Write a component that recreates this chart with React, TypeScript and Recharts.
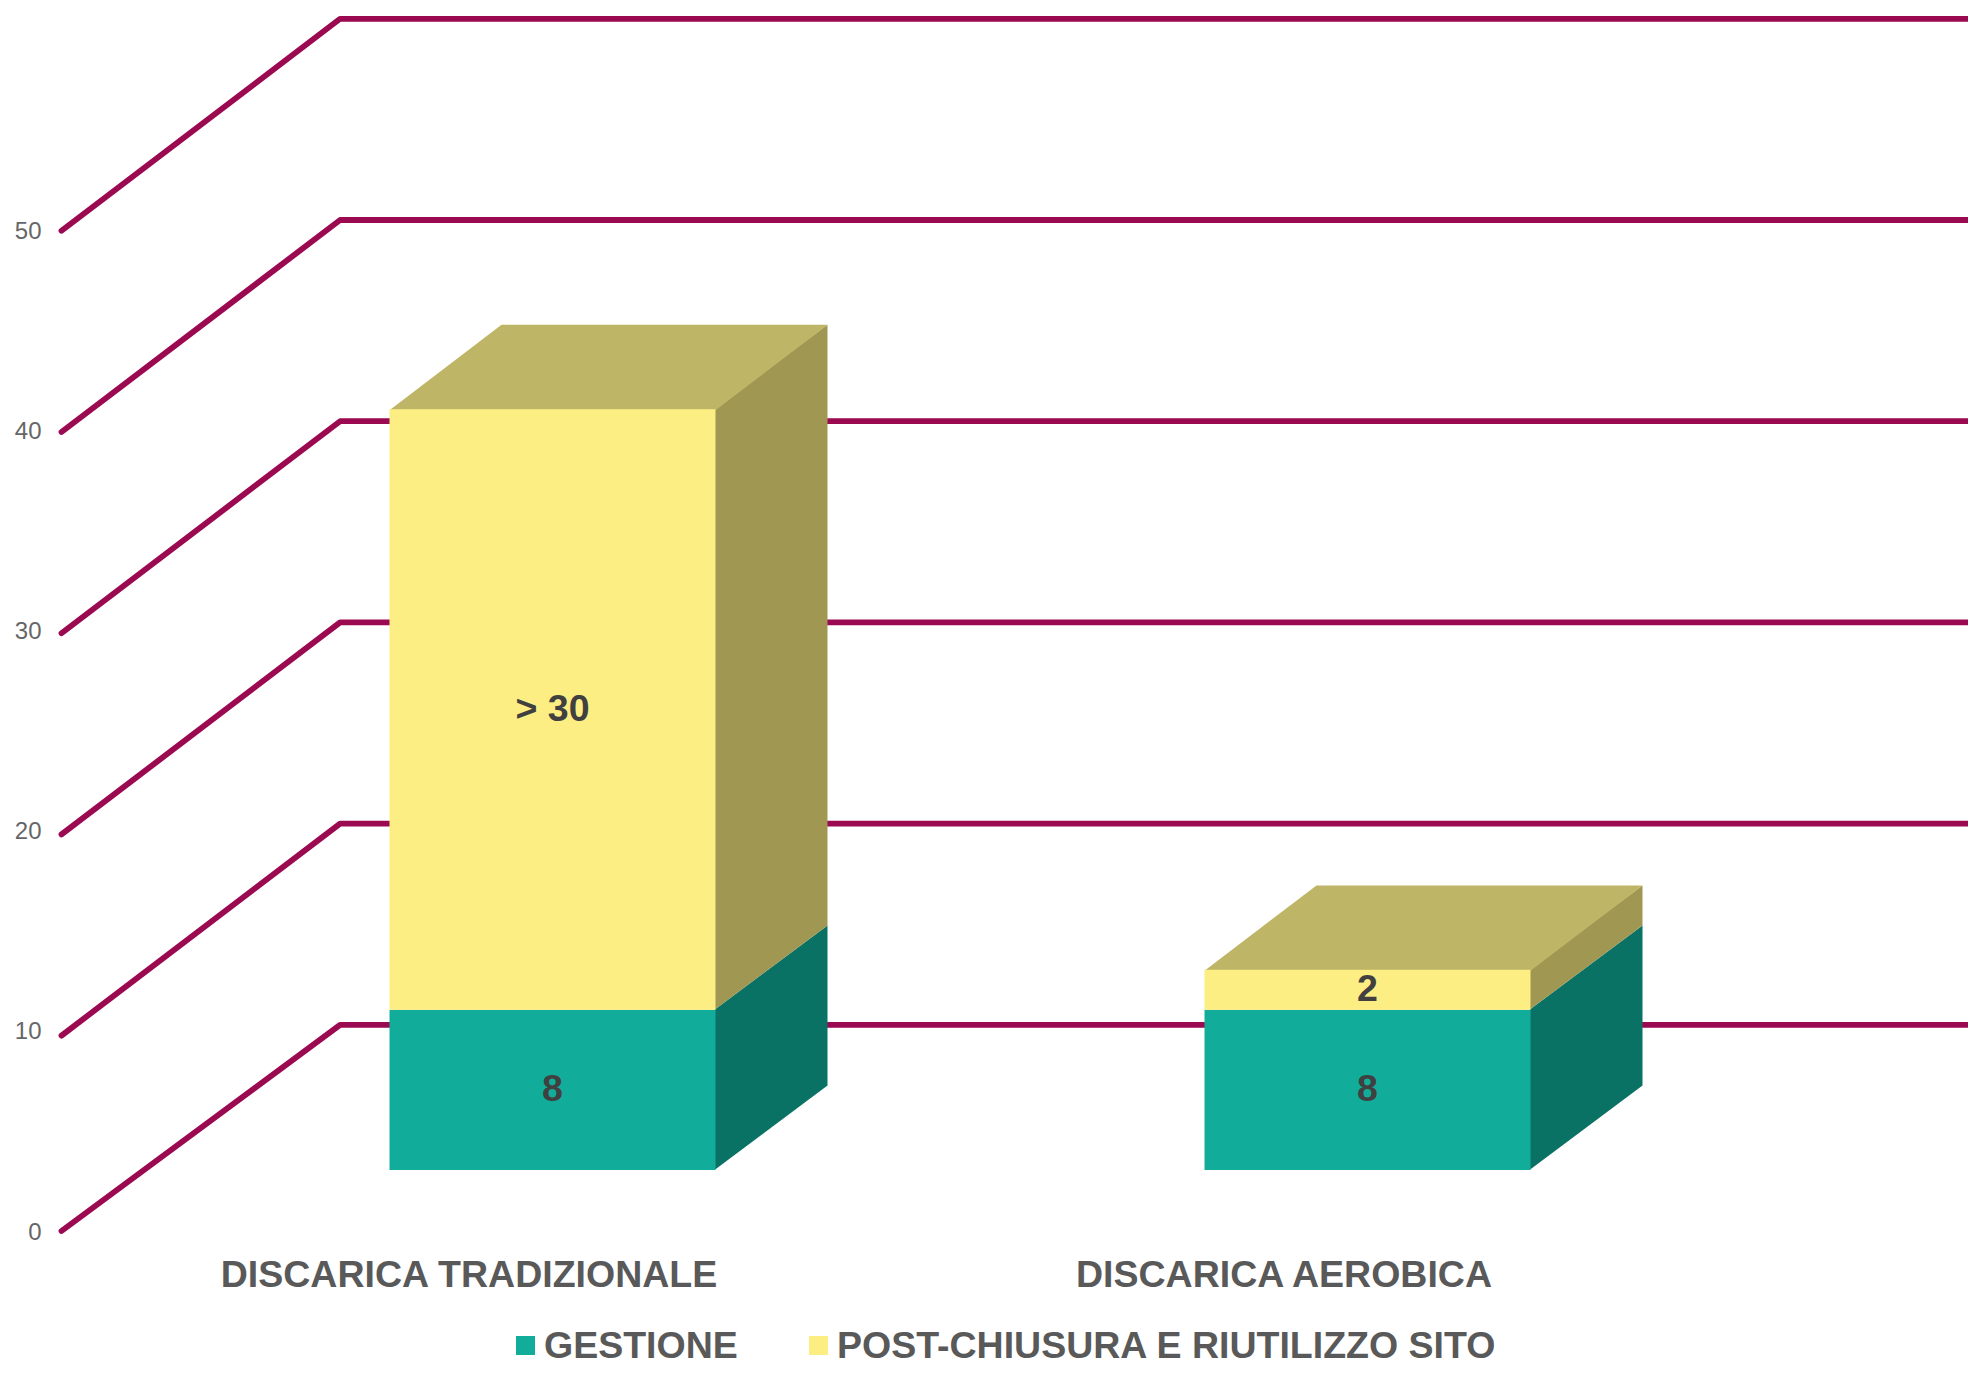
import { Bar, BarChart, CartesianGrid, LabelList, Legend, XAxis, YAxis } from "recharts";

const categories = ["DISCARICA TRADIZIONALE", "DISCARICA AEROBICA"];
const gestione = [8, 8];
const postChiusura = [30, 2];
const gestioneLabels = ["8", "8"];
const postChiusuraLabels = ["> 30", "2"];
const yTicks = [0, 10, 20, 30, 40, 50];

const data = categories.map((name, i) => ({
  name,
  gestione: gestione[i],
  postChiusura: postChiusura[i],
  gestioneLabel: gestioneLabels[i],
  postChiusuraLabel: postChiusuraLabels[i],
}));

const FONT = "'Liberation Sans', Arial, sans-serif";
const GRID = "#9B0A50";

// fake 3d: wall depth of the grid and where the bars stand on the floor
const WALL_DX = 278.6;
const WALL_DY = 212;
const FLOOR_DY = 206.2;
const WALL_STRETCH = 1.005;
const BAR_DX = 83;
const BAR_DY = 61;
const BOX_DX = 112;
const BOX_DY = 84.4;

function gridLine(props: any) {
  const { x1, x2, y1, y, height, key } = props;
  const rise = y + height - y1;
  const backY = y + height - FLOOR_DY - rise * WALL_STRETCH;
  const frontY = backY + (rise < 1 ? FLOOR_DY : WALL_DY);
  return (
    <path
      key={key}
      d={`M${x1},${frontY} L${x1 + WALL_DX},${backY} L${x2 + WALL_DX},${backY}`}
      fill="none"
      stroke={GRID}
      strokeWidth={5.8}
      strokeLinecap="round"
      strokeLinejoin="round"
    />
  );
}

function box(front: string, side: string, top?: string) {
  return (props: any) => {
    const x = props.x + BAR_DX;
    const y = props.y - BAR_DY;
    const { width, height } = props;
    return (
      <g>
        <path
          d={`M${x + width - 1},${y} L${x + width + BOX_DX},${y - BOX_DY} L${x + width + BOX_DX},${y + height - BOX_DY} L${x + width - 1},${y + height} Z`}
          fill={side}
        />
        {top && (
          <path
            d={`M${x},${y + 1} L${x + BOX_DX},${y - BOX_DY} L${x + width + BOX_DX},${y - BOX_DY} L${x + width},${y + 1} Z`}
            fill={top}
          />
        )}
        <rect x={x} y={y} width={width} height={height} fill={front} />
      </g>
    );
  };
}

function legendContent(props: any) {
  return (
    <div style={{ position: "relative", height: 40, fontFamily: FONT, fontWeight: "bold", fontSize: 37.5, color: "#595959" }}>
      {props.payload.map((entry: any, i: number) => (
        <div key={entry.value} style={{ position: "absolute", left: i === 0 ? 516 : 809, top: 0, whiteSpace: "nowrap", lineHeight: "40px" }}>
          <span style={{ display: "inline-block", width: 19, height: 19, background: entry.color, marginRight: 9, position: "relative", top: -3 }} />
          {entry.value}
        </div>
      ))}
    </div>
  );
}

const labelStyle = { fontFamily: FONT, fontWeight: "bold", fontSize: 37.5, fill: "#404040" };

export default function App() {
  return (
    <div style={{ position: "absolute", left: 0, top: 0, background: "#fff" }}>
      <BarChart
        width={1968}
        height={1374}
        data={data}
        barSize={326}
        margin={{ top: 230, right: 276.5, bottom: 0, left: 0 }}
      >
        <CartesianGrid vertical={false} horizontal={gridLine} />
        <XAxis
          dataKey="name"
          interval={0}
          height={143}
          axisLine={false}
          tickLine={false}
          tickSize={0}
          tickMargin={29}
          tick={{ fontFamily: FONT, fontWeight: "bold", fontSize: 37.5, fill: "#595959" }}
        />
        <YAxis
          width={61.5}
          domain={[0, 50]}
          ticks={yTicks}
          axisLine={false}
          tickLine={false}
          tickSize={0}
          tickMargin={20}
          tick={{ fontFamily: FONT, fontSize: 24, fill: "#666666" }}
        />
        <Legend
          verticalAlign="middle"
          content={legendContent}
          wrapperStyle={{ top: 1325, left: 0, width: 1968 }}
        />
        <Bar
          dataKey="gestione"
          name="GESTIONE"
          stackId="a"
          fill="#12AD9A"
          isAnimationActive={false}
          shape={box("#12AD9A", "#0A7165")}
        >
          <LabelList dataKey="gestioneLabel" position="center" dx={BAR_DX} dy={-BAR_DY - 2} style={labelStyle} />
        </Bar>
        <Bar
          dataKey="postChiusura"
          name="POST-CHIUSURA E RIUTILIZZO SITO"
          stackId="a"
          fill="#FDEE84"
          isAnimationActive={false}
          shape={box("#FDEE84", "#A09753", "#BFB566")}
        >
          <LabelList dataKey="postChiusuraLabel" position="center" dx={BAR_DX} dy={-BAR_DY - 2} style={labelStyle} />
        </Bar>
      </BarChart>
    </div>
  );
}
